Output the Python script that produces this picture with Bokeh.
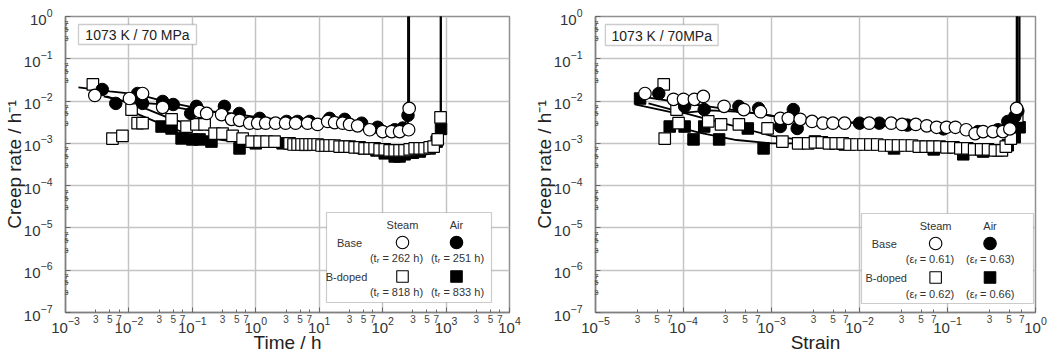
from bokeh.plotting import figure
from bokeh.layouts import row
from bokeh.models import (FixedTicker, Label, BoxAnnotation, Range1d, LogAxis,
                          LogTickFormatter, CustomJSTickFormatter)
from bokeh.embed import file_html
from bokeh.resources import INLINE

FONT = "Liberation Sans"
NB = "\u00a0"

# ---------------- axis ticks ----------------
time_major = [1e-3, 1e-2, 1e-1, 1e0, 1e1, 1e2, 1e3, 1e4]
strain_major = [1e-5, 1e-4, 1e-3, 1e-2, 1e-1, 1e0]
rate_major = [1e-7, 1e-6, 1e-5, 1e-4, 1e-3, 1e-2, 1e-1, 1e0]
minor_mult = [3, 5, 7]

# ---------------- left panel: creep rate vs time (h) ----------------
base_steam_t = [0.0029, 0.0102, 0.0164, 0.034, 0.13, 0.168, 0.289, 0.415, 0.554, 0.8,
                1.07, 1.43, 2.05, 2.95, 4.24, 6.56, 9.4, 13.6, 17.5, 23.4,
                30.1, 40.3, 62.4, 100, 139, 185, 257, 262]
base_steam_r = [0.0136, 0.0115, 0.0151, 0.0071, 0.0057, 0.0051, 0.0048, 0.0037, 0.0035, 0.003,
                0.003, 0.003, 0.003, 0.003, 0.003, 0.003, 0.0028, 0.0033, 0.0031, 0.003,
                0.0028, 0.0026, 0.0021, 0.0019, 0.0019, 0.0019, 0.0021, 0.0067]

base_air_t = [0.0038, 0.0062, 0.0137, 0.0164, 0.034, 0.05, 0.094, 0.116, 0.32, 0.55,
              1.15, 3.06, 4.56, 7.06, 14.6, 25.2, 46.7, 83.4, 155, 207, 251]
base_air_r = [0.0188, 0.0088, 0.0151, 0.0088, 0.0098, 0.0083, 0.0051, 0.0075, 0.0075, 0.0051,
              0.0039, 0.0033, 0.0033, 0.0033, 0.0039, 0.0037, 0.003, 0.0024, 0.0021, 0.0023, 0.0046]

bdoped_steam_t = [0.0027, 0.0055, 0.0079, 0.011, 0.0137, 0.0164, 0.047, 0.081, 0.116, 0.156,
                  0.224, 0.299, 0.431, 0.62, 0.86, 1.15, 1.48, 1.98, 3.41, 3.94,
                  4.56, 5.27, 6.1, 7.06, 8.16, 9.44, 10.9, 12.6, 14.6, 17.5,
                  21.0, 25.2, 30.1, 36.2, 43.4, 52.0, 62.4, 74.8, 89.7, 108,
                  129, 155, 185, 222, 267, 320, 384, 459, 551, 637, 738, 818]
bdoped_steam_r = [0.0247, 0.0013, 0.0015, 0.0063, 0.003, 0.003, 0.0037, 0.0025, 0.0028, 0.0028,
                  0.0017, 0.0017, 0.0015, 0.0013, 0.0011, 0.0011, 0.0011, 0.0011, 0.001, 0.00094,
                  0.00094, 0.00094, 0.00094, 0.00094, 0.00094, 0.00094, 0.00089, 0.00089, 0.00089, 0.00089,
                  0.00084, 0.00084, 0.00084, 0.0008, 0.0008, 0.00076, 0.00076, 0.00076, 0.00072, 0.00072,
                  0.00068, 0.00068, 0.00068, 0.00068, 0.00072, 0.00076, 0.00076, 0.00076, 0.0008, 0.00084, 0.00124, 0.0041]

bdoped_air_t = [0.0158, 0.0327, 0.047, 0.0676, 0.1, 0.13, 0.2, 0.554, 1.0, 2.65,
                6, 12, 25, 50, 80, 108, 155, 185, 222, 300, 384, 551, 711, 833]
bdoped_air_r = [0.0109, 0.0025, 0.00225, 0.00131, 0.00124, 0.00124, 0.0011, 0.00076, 0.001, 0.001,
                0.00092, 0.00088, 0.00084, 0.00076, 0.00068, 0.00058, 0.00049, 0.00049, 0.00055, 0.0006,
                0.00064, 0.00076, 0.0011, 0.0022]

# continuous creep-rate curves (last point = rupture spike)
base_steam_curve_t = [0.0016, 0.005, 0.014, 0.04, 0.1, 0.3, 1, 3, 10, 30, 100, 200, 250, 262, 262]
base_steam_curve_r = [0.021, 0.017, 0.0144, 0.0095, 0.0072, 0.005, 0.0036, 0.0031, 0.003, 0.0026,
                      0.0021, 0.0021, 0.003, 0.0068, 10]
base_air_curve_t = [0.004, 0.01, 0.03, 0.1, 0.3, 1, 3, 10, 30, 100, 200, 240, 251, 251]
base_air_curve_r = [0.013, 0.0095, 0.0085, 0.006, 0.0055, 0.0042, 0.0035, 0.0034, 0.003, 0.0023,
                    0.0022, 0.0035, 0.006, 10]
bdoped_steam_curve_t = [0.0044, 0.015, 0.044, 0.1, 0.3, 1, 3, 10, 30, 100, 200, 400, 700, 800, 818, 818]
bdoped_steam_curve_r = [0.0129, 0.0075, 0.0039, 0.0027, 0.0016, 0.0012, 0.0011, 0.00095, 0.0009,
                        0.00078, 0.00072, 0.00075, 0.0009, 0.0015, 0.004, 10]
bdoped_air_curve_t = [0.01, 0.03, 0.1, 0.3, 1, 3, 10, 30, 100, 200, 300, 500, 700, 800, 833, 833]
bdoped_air_curve_r = [0.006, 0.003, 0.0015, 0.0012, 0.001, 0.00095, 0.0009, 0.00085, 0.0006,
                      0.0005, 0.0005, 0.00055, 0.0007, 0.001, 0.002, 10]

# ---------------- right panel: creep rate vs strain ----------------
base_steam_e = [3.65e-5, 7.7e-5, 1.0e-4, 1.33e-4, 1.68e-4, 2.89e-4, 4.84e-4, 7.5e-4, 1.26e-3, 1.55e-3,
                2.12e-3, 2.89e-3, 3.84e-3, 4.98e-3, 6.78e-3, 1.29e-2, 2.29e-2, 3.04e-2, 4.36e-2, 5.81e-2,
                7.52e-2, 9.75e-2, 0.123, 0.163, 0.206, 0.254, 0.329, 0.426, 0.511, 0.61]
base_steam_er = [0.0151, 0.011, 0.011, 0.011, 0.0129, 0.0075, 0.0063, 0.0056, 0.0039, 0.0039,
                 0.0037, 0.0033, 0.003, 0.003, 0.003, 0.003, 0.003, 0.0028, 0.0028, 0.0026,
                 0.0024, 0.0024, 0.0024, 0.0021, 0.0017, 0.0019, 0.0019, 0.0019, 0.0022, 0.0067]

base_air_e = [5.24e-5, 1.03e-4, 1.72e-4, 4.26e-4, 7.14e-4, 1.26e-3, 1.77e-3, 1.96e-3, 1.0e-2, 1.68e-2,
              3.5e-2, 9.0e-2, 0.223, 0.374, 0.484, 0.58, 0.63]
base_air_er = [0.0151, 0.0075, 0.0063, 0.0075, 0.0067, 0.0025, 0.0063, 0.00225, 0.003, 0.003,
               0.0027, 0.0022, 0.0019, 0.0021, 0.0033, 0.0043, 0.0058]

bdoped_steam_e = [5.96e-5, 8.34e-5, 8.79e-5, 6.12e-5, 1.91e-4, 2.67e-4, 4.26e-4, 9.02e-4, 1.33e-3, 2.01e-3,
                  2.61e-3, 3.12e-3, 3.74e-3, 4.49e-3, 5.37e-3, 6.44e-3, 7.73e-3, 9.25e-3, 1.11e-2, 1.33e-2,
                  1.59e-2, 1.91e-2, 2.29e-2, 2.74e-2, 3.29e-2, 3.94e-2, 4.72e-2, 5.66e-2, 6.78e-2, 8.13e-2,
                  9.75e-2, 0.117, 0.140, 0.168, 0.201, 0.241, 0.289, 0.346, 0.415, 0.460, 0.524, 0.62]
bdoped_steam_er = [0.0247, 0.0063, 0.003, 0.0013, 0.0033, 0.0028, 0.0028, 0.00225, 0.0011, 0.001,
                   0.001, 0.00105, 0.00105, 0.001, 0.001, 0.001, 0.00094, 0.00094, 0.00094, 0.00094,
                   0.00094, 0.00089, 0.00089, 0.00089, 0.00089, 0.00089, 0.00084, 0.00084, 0.00084, 0.00084,
                   0.0008, 0.0008, 0.00076, 0.00076, 0.00072, 0.00072, 0.00072, 0.00068, 0.00068, 0.00084,
                   0.0013, 0.0043]

bdoped_air_e = [3.21e-5, 6.97e-5, 1.03e-4, 1.30e-4, 1.72e-4, 2.54e-4, 5.38e-4, 8.13e-4, 3.12e-3, 6.78e-3,
                2.47e-2, 6.97e-2, 0.151, 0.254, 0.374, 0.484, 0.58, 0.66]
bdoped_air_er = [0.0115, 0.0025, 0.0025, 0.00124, 0.0025, 0.00124, 0.00225, 0.00076, 0.00111, 0.00094,
                 0.00076, 0.00072, 0.00055, 0.00064, 0.00068, 0.0009, 0.0014, 0.0024]

base_steam_curve_e = [4e-5, 1e-4, 3e-4, 1e-3, 3e-3, 1e-2, 3e-2, 0.1, 0.2, 0.3, 0.45, 0.55, 0.61, 0.61]
base_steam_curve_er = [0.012, 0.009, 0.0065, 0.0045, 0.0032, 0.003, 0.003, 0.0025, 0.0021, 0.0019,
                       0.0019, 0.0025, 0.0068, 10]
base_air_curve_e = [2.8e-5, 8.4e-5, 2e-4, 5e-4, 1e-3, 3e-3, 1e-2, 3e-2, 0.1, 0.2, 0.3, 0.45, 0.55, 0.6, 0.63, 0.63]
base_air_curve_er = [0.0083, 0.0051, 0.006, 0.0055, 0.0045, 0.0035, 0.0031, 0.003, 0.0026, 0.0022,
                     0.002, 0.0021, 0.0028, 0.004, 0.006, 10]
bdoped_steam_curve_e = [4e-5, 1.72e-4, 4e-4, 1e-3, 3e-3, 1e-2, 3e-2, 0.1, 0.2, 0.35, 0.5, 0.58, 0.62, 0.62]
bdoped_steam_curve_er = [0.0088, 0.0039, 0.0025, 0.0015, 0.0011, 0.001, 0.00095, 0.00085, 0.00075,
                         0.00072, 0.0009, 0.0013, 0.004, 10]
bdoped_air_curve_e = [6e-5, 1.5e-4, 4e-4, 1e-3, 3e-3, 1e-2, 3e-2, 0.1, 0.15, 0.25, 0.4, 0.55, 0.63, 0.66, 0.66]
bdoped_air_curve_er = [0.003, 0.0018, 0.0012, 0.001, 0.001, 0.00095, 0.0009, 0.0007, 0.00055, 0.0006,
                       0.0007, 0.001, 0.0015, 0.0025, 10]

# ---------------- texts ----------------
condition_left = "1073 K / 70 MPa"
condition_right = "1073 K / 70MPa"
y_title = "Creep rate / h\u207b\u00b9"
left_rupture = [("t", "r", NB + "= 262 h)"), ("t", "r", NB + "= 251 h)"),
                ("t", "r", NB + "= 818 h)"), ("t", "r", NB + "= 833 h)")]
right_rupture = [("\u03b5", "f", NB + "= 0.61)"), ("\u03b5", "f", NB + "= 0.63)"),
                 ("\u03b5", "f", NB + "= 0.62)"), ("\u03b5", "f", NB + "= 0.66)")]

# ---------------- helpers ----------------
FRAME_H = 296
RATE_DEC = 7.0


def conv_left(px, py):
    # reference page pixel -> data (reference left frame x 66..510, y 15..311)
    return 10 ** (-3 + (px - 66) / 444 * 7), 10 ** (-(py - 15) / 296 * RATE_DEC)


def conv_right(px, py):
    # reference right frame x 598..1043
    return 10 ** (-5 + (px - 598) / 445 * 5), 10 ** (-(py - 15) / 296 * RATE_DEC)


CW = {"(": 0.333, ")": 0.333, " ": 0.278, NB: 0.278, "=": 0.584, ".": 0.278, "t": 0.278,
      "h": 0.556, "r": 0.333, "f": 0.278, "\u03b5": 0.47}


def tw(s, size):
    return sum(CW.get(c, 0.556) for c in s) * size


def txt(p, conv, px, py, s, size=11, align="center", color="#333333", **kw):
    x, y = conv(px, py)
    p.add_layout(Label(x=x, y=y, text=s, text_align=align, text_baseline="middle",
                       text_font=FONT, text_font_size=f"{size}px", text_color=color, **kw))


def sub_txt(p, conv, cx, cy, base, sub, post, size=11, subsize=8):
    pre = "(" + base
    wpre, wsub, wpost = tw(pre, size), tw(sub, subsize), tw(post, size)
    ax = cx - (wpre + wsub + wpost) / 2 + wpre
    txt(p, conv, ax, cy, pre, size, align="right")
    txt(p, conv, ax, cy, sub, subsize, align="left", y_offset=-3)
    txt(p, conv, ax + wsub, cy, post, size, align="left")


MINOR_FMT = ("const e = Math.floor(Math.log10(tick) + 1e-9);"
             "return String(Math.round(tick / Math.pow(10, e)));")


def style_axis(ax):
    ax.major_label_text_font = FONT
    ax.major_label_text_color = "#333333"
    ax.axis_label_text_font = FONT
    ax.axis_label_text_font_size = "19px"
    ax.axis_label_text_font_style = "normal"
    ax.axis_label_text_color = "#222222"


def make_fig(xr, frame_w, bl, br, xlabel, xmajor):
    p = figure(x_axis_type="log", y_axis_type="log",
               x_range=Range1d(*xr), y_range=Range1d(1e-7, 1e0),
               frame_width=frame_w, frame_height=FRAME_H,
               min_border_left=bl, min_border_right=br, min_border_top=16, min_border_bottom=5,
               toolbar_location=None, output_backend="svg", background_fill_color="white",
               border_fill_color="white")
    xminor = [m * t for t in xmajor[:-1] for m in minor_mult]
    yminor = [m * t for t in rate_major[:-1] for m in minor_mult]

    # inner axes: line, ticks and the small 3/5/7 labels
    for ax, minor, major, fs, so in ((p.xaxis[0], xminor, xmajor, "10px", 2),
                                     (p.yaxis[0], yminor, rate_major, "7px", -3)):
        ax.ticker = FixedTicker(ticks=minor, minor_ticks=major)
        ax.formatter = CustomJSTickFormatter(code=MINOR_FMT)
        ax.axis_line_color = "#808080"
        ax.axis_line_width = 1.5
        ax.major_tick_in = 3
        ax.major_tick_out = 0
        ax.minor_tick_in = 5
        ax.minor_tick_out = 0
        ax.major_tick_line_color = "#666666"
        ax.minor_tick_line_color = "#666666"
        ax.major_label_text_font_size = fs
        ax.major_label_standoff = so
        style_axis(ax)
        ax.major_label_text_color = "#444444"

    # outer axes: decade labels 10^n and titles
    xa2 = LogAxis(ticker=FixedTicker(ticks=xmajor, minor_ticks=[]), formatter=LogTickFormatter(),
                  axis_line_color=None, major_tick_line_color=None, minor_tick_line_color=None,
                  major_label_standoff=-15, axis_label=xlabel, axis_label_standoff=-4,
                  major_label_text_font_size="15px")
    style_axis(xa2)
    p.add_layout(xa2, "below")
    ya2 = LogAxis(ticker=FixedTicker(ticks=rate_major, minor_ticks=[]), formatter=LogTickFormatter(),
                  axis_line_color=None, major_tick_line_color=None, minor_tick_line_color=None,
                  major_label_standoff=3, axis_label=y_title, axis_label_standoff=-4,
                  major_label_text_font_size="15px")
    style_axis(ya2)
    p.add_layout(ya2, "left")

    p.xgrid.ticker = FixedTicker(ticks=xmajor, minor_ticks=[])
    p.ygrid.ticker = FixedTicker(ticks=rate_major, minor_ticks=[])
    p.grid.grid_line_color = "#c4c4c4"
    p.grid.grid_line_width = 1.5
    p.outline_line_color = "#909090"
    p.outline_line_width = 1.5
    return p


def draw_series(p, curves, pts):
    for cx, cy in curves:
        p.line(cx, cy, line_color="black", line_width=1.8)
    (ba_x, ba_y), (bs_x, bs_y), (sa_x, sa_y), (ss_x, ss_y) = pts
    p.scatter(ba_x, ba_y, marker="square", size=11.5, fill_color="black", line_color="black")
    p.scatter(bs_x, bs_y, marker="square", size=11.5, fill_color="white", line_color="black",
              line_width=1.2)
    p.scatter(sa_x, sa_y, marker="circle", size=12.5, fill_color="black", line_color="black")
    p.scatter(ss_x, ss_y, marker="circle", size=12.5, fill_color="white", line_color="black",
              line_width=1.2)


def cond_box(p, conv, x0, y0, x1, y1, s):
    l, t = conv(x0, y0)
    r, b = conv(x1, y1)
    p.add_layout(BoxAnnotation(left=l, right=r, top=t, bottom=b, fill_color="white",
                               fill_alpha=1, line_color="#555555", line_width=1.3))
    txt(p, conv, (x0 + x1) / 2, (y0 + y1) / 2 + 0.5, s, size=14, color="#222222")


def legend(p, conv, box, cols, rows_y, lab_x, sub_x, sub_y, ruptures):
    x0, y0, x1, y1 = box
    l, t = conv(x0, y0)
    r, b = conv(x1, y1)
    p.add_layout(BoxAnnotation(left=l, right=r, top=t, bottom=b, fill_color="white",
                               fill_alpha=1, line_color="#555555", line_width=1.2))
    txt(p, conv, cols[0], rows_y[0], "Steam", 11)
    txt(p, conv, cols[1], rows_y[0], "Air", 11)
    txt(p, conv, lab_x[0], rows_y[1], "Base", 11)
    txt(p, conv, lab_x[1], rows_y[2], "B-doped", 11)
    for (mk, ry) in (("circle", rows_y[1]), ("square", rows_y[2])):
        sz = 12.5 if mk == "circle" else 11.5
        for cxp, fill in ((cols[0], "white"), (cols[1], "black")):
            x, y = conv(cxp, ry)
            p.scatter([x], [y], marker=mk, size=sz, fill_color=fill, line_color="black",
                      line_width=1.1, level="overlay")
    k = 0
    for yy in sub_y:
        for xx in sub_x:
            b_, s_, post = ruptures[k]
            sub_txt(p, conv, xx, yy, b_, s_, post)
            k += 1


# ---------------- left figure ----------------
p1 = make_fig((1e-3, 1e4), 444, 58, 12, "Time / h", time_major)
draw_series(p1,
            [(base_steam_curve_t, base_steam_curve_r), (base_air_curve_t, base_air_curve_r),
             (bdoped_steam_curve_t, bdoped_steam_curve_r), (bdoped_air_curve_t, bdoped_air_curve_r)],
            [(bdoped_air_t, bdoped_air_r), (bdoped_steam_t, bdoped_steam_r),
             (base_air_t, base_air_r), (base_steam_t, base_steam_r)])
cond_box(p1, conv_left, 79, 23, 197, 43, condition_left)
legend(p1, conv_left, (327, 211, 492, 301), (403, 457), (223, 241, 275), (350, 347),
       (397, 458), (256, 290), left_rupture)

# ---------------- right figure ----------------
p2 = make_fig((1e-5, 1e0), 440, 74, 12, "Strain", strain_major)
draw_series(p2,
            [(base_steam_curve_e, base_steam_curve_er), (base_air_curve_e, base_air_curve_er),
             (bdoped_steam_curve_e, bdoped_steam_curve_er), (bdoped_air_curve_e, bdoped_air_curve_er)],
            [(bdoped_air_e, bdoped_air_er), (bdoped_steam_e, bdoped_steam_er),
             (base_air_e, base_air_er), (base_steam_e, base_steam_er)])
cond_box(p2, conv_right, 608, 23, 722, 44, condition_right)
legend(p2, conv_right, (867, 212, 1041, 302), (942, 997), (224, 242, 276), (890, 892),
       (936, 997), (257, 292), right_rupture)

layout = row(p1, p2)
open("out.html", "w").write(file_html(layout, INLINE))
